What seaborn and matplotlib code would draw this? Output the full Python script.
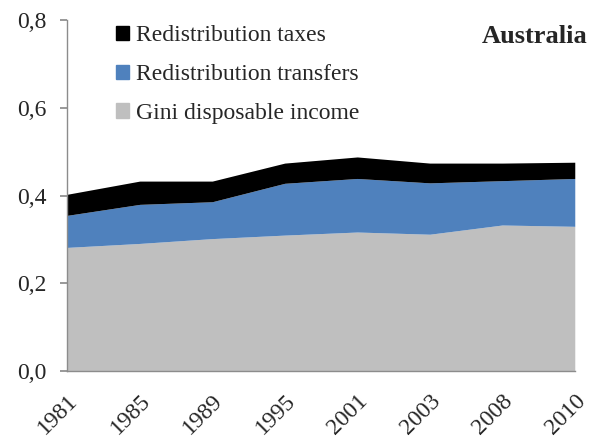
import seaborn as sns
import matplotlib.pyplot as plt
from matplotlib.patches import Patch

years = ['1981', '1985', '1989', '1995', '2001', '2003', '2008', '2010']
gini_disposable = [0.282, 0.291, 0.302, 0.310, 0.317, 0.312, 0.333, 0.330]
redistribution_transfers = [0.073, 0.089, 0.084, 0.118, 0.122, 0.117, 0.101, 0.109]
redistribution_taxes = [0.048, 0.053, 0.047, 0.046, 0.049, 0.045, 0.040, 0.037]

labels = ['Gini disposable income', 'Redistribution transfers', 'Redistribution taxes']
colors = ['#BFBFBF', '#4F81BD', '#000000']

sns.set_theme(style='white')
plt.rcParams['font.family'] = ['Liberation Serif', 'DejaVu Serif']

fig, ax = plt.subplots(figsize=(5.95, 4.44), dpi=100)
fig.subplots_adjust(left=0.113, right=0.966, top=0.955, bottom=0.164)

x = list(range(len(years)))
ax.stackplot(x, gini_disposable, redistribution_transfers, redistribution_taxes,
             colors=colors, linewidth=0)

ax.set_xlim(0, len(years) - 1)
ax.set_ylim(0, 0.8)
ax.set_yticks([0, 0.2, 0.4, 0.6, 0.8])
ax.set_yticklabels(['0,0', '0,2', '0,4', '0,6', '0,8'], fontsize=17)
ax.set_xticks(x)
ax.set_xticklabels(years, fontsize=17, rotation=45, ha='right', rotation_mode='anchor')

sns.despine(ax=ax)
for side in ['left', 'bottom']:
    ax.spines[side].set_color('#8C8C8C')
    ax.spines[side].set_linewidth(1)
ax.tick_params(axis='y', which='major', left=True, length=5, color='#8C8C8C', pad=10)
ax.tick_params(axis='x', which='major', bottom=False, pad=8)

handles = [Patch(color=c) for c in colors[::-1]]
ax.legend(handles, labels[::-1], loc='upper left', bbox_to_anchor=(0.055, 1.045),
          frameon=False, fontsize=17, handlelength=0.55, handleheight=0.55,
          handletextpad=0.3, labelspacing=0.75)

ax.text(1.025, 0.985, 'Australia', transform=ax.transAxes, ha='right', va='top',
        fontsize=19, fontweight='bold')

fig.savefig('out.png', dpi=100)
